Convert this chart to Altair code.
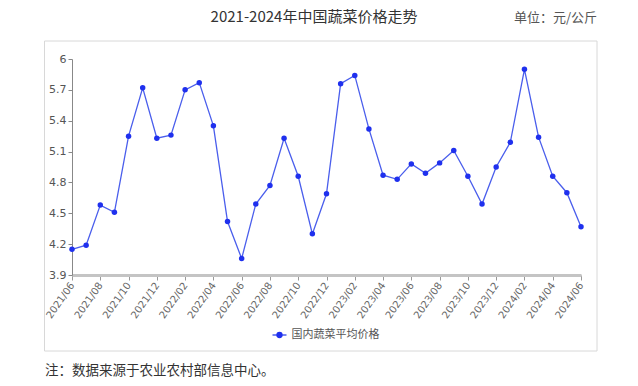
import altair as alt
import pandas as pd

months = [
    "2021/06", "2021/07", "2021/08", "2021/09", "2021/10", "2021/11", "2021/12",
    "2022/01", "2022/02", "2022/03", "2022/04", "2022/05", "2022/06", "2022/07",
    "2022/08", "2022/09", "2022/10", "2022/11", "2022/12",
    "2023/01", "2023/02", "2023/03", "2023/04", "2023/05", "2023/06", "2023/07",
    "2023/08", "2023/09", "2023/10", "2023/11", "2023/12",
    "2024/01", "2024/02", "2024/03", "2024/04", "2024/05", "2024/06",
]
prices = [
    4.15, 4.19, 4.58, 4.51, 5.25, 5.72, 5.23,
    5.26, 5.70, 5.77, 5.35, 4.42, 4.06, 4.59,
    4.77, 5.23, 4.86, 4.30, 4.69,
    5.76, 5.84, 5.32, 4.87, 4.83, 4.98, 4.89,
    4.99, 5.11, 4.86, 4.59, 4.95,
    5.19, 5.90, 5.24, 4.86, 4.70, 4.37,
]
y_ticks = [3.9, 4.2, 4.5, 4.8, 5.1, 5.4, 5.7, 6.0]
x_ticks = months[::2]

title_text = "2021-2024年中国蔬菜价格走势"
unit_text = "单位：元/公斤"
series_name = "国内蔬菜平均价格"
note_text = "注：数据来源于农业农村部信息中心。"

df = pd.DataFrame({"month": months, "price": prices})
one = pd.DataFrame({"k": [0]})

CJK = "Noto Sans CJK SC"
LINE = "#4a5eec"
DOT = "#1f30ee"

x_enc = alt.X(
    "month:O",
    sort=months,
    scale=alt.Scale(type="point", padding=0),
    axis=alt.Axis(
        values=x_ticks, title=None, labelAngle=-55, labelAlign="right",
        labelBaseline="middle", labelFont="DejaVu Sans", labelFontSize=10,
        labelColor="#666666", labelPadding=3, tickSize=5, tickColor="#999999",
        domainColor="#c4c4c4", domainWidth=3, grid=False,
    ),
)
y_enc = alt.Y(
    "price:Q",
    scale=alt.Scale(domain=[3.9, 6.0], nice=False, zero=False),
    axis=alt.Axis(
        values=y_ticks, format=".1~f", title=None, labelFont="DejaVu Sans",
        labelFontSize=11, labelColor="#555555", tickSize=4, tickColor="#888888",
        domainColor="#888888", grid=False, labelPadding=2,
    ),
)

base = alt.Chart(df)
line = base.mark_line(color=LINE, strokeWidth=1.3).encode(x=x_enc, y=y_enc)
pts = base.mark_circle(color=DOT, size=30, opacity=1).encode(x=x_enc, y=y_enc)

frame = alt.Chart(one).mark_rect(fill=None, stroke="#d8d8d8", strokeWidth=1).encode(
    x=alt.value(-27.5), x2=alt.value(525), y=alt.value(-18), y2=alt.value(292)
)
title = alt.Chart(one).mark_text(font=CJK, fontSize=15, color="#333333", align="center", baseline="middle").encode(
    x=alt.value(242), y=alt.value(-42), text=alt.value(title_text)
)
unit = alt.Chart(one).mark_text(font=CJK, fontSize=13, color="#555555", align="right", baseline="middle").encode(
    x=alt.value(525), y=alt.value(-41), text=alt.value(unit_text)
)
note = alt.Chart(one).mark_text(font=CJK, fontSize=13.5, color="#333333", align="left", baseline="middle").encode(
    x=alt.value(-27), y=alt.value(312), text=alt.value(note_text)
)
leg_line = alt.Chart(one).mark_rule(color=LINE, strokeWidth=1.5).encode(
    x=alt.value(200.5), x2=alt.value(214.5), y=alt.value(276)
)
leg_dot = alt.Chart(one).mark_circle(color=DOT, size=40, opacity=1).encode(
    x=alt.value(207.5), y=alt.value(276)
)
leg_text = alt.Chart(one).mark_text(font=CJK, fontSize=11, color="#555555", align="left", baseline="middle").encode(
    x=alt.value(219.5), y=alt.value(276), text=alt.value(series_name)
)

chart = alt.layer(frame, line, pts, title, unit, note, leg_line, leg_dot, leg_text).properties(
    width=509, height=216,
    autosize=alt.AutoSizeParams(type="none"),
    padding={"left": 72, "top": 59, "right": 57, "bottom": 111},
    background="white",
).configure_view(stroke=None)

chart.save("out.html", embed_options={"renderer": "svg", "actions": False})
